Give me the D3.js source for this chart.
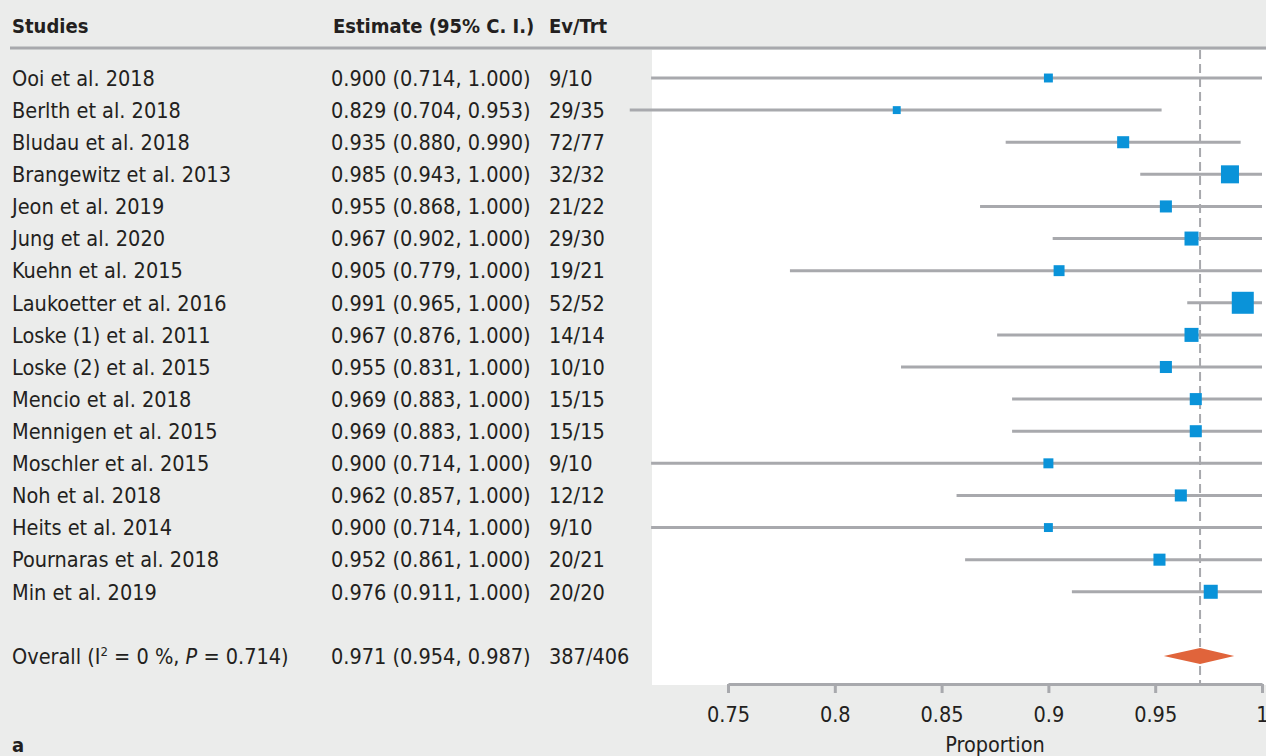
<!DOCTYPE html>
<html>
<head>
<meta charset="utf-8">
<script src="https://cdn.jsdelivr.net/npm/d3@7"></script>
<style>
  body { margin: 0; background: #ebeceb; }
  svg text { font-family: "Liberation Sans Narrow", "DejaVu Sans Condensed", "Roboto", sans-serif; fill: #231f20; }
</style>
</head>
<body>
<svg></svg>
<script>
let svgWidth = 1266;
let svgHeight = 756;

let studies = ["Ooi et al. 2018", "Berlth et al. 2018", "Bludau et al. 2018", "Brangewitz et al. 2013",
  "Jeon et al. 2019", "Jung et al. 2020", "Kuehn et al. 2015", "Laukoetter et al. 2016",
  "Loske (1) et al. 2011", "Loske (2) et al. 2015", "Mencio et al. 2018", "Mennigen et al. 2015",
  "Moschler et al. 2015", "Noh et al. 2018", "Heits et al. 2014", "Pournaras et al. 2018", "Min et al. 2019"];
let estimate = [0.900, 0.829, 0.935, 0.985, 0.955, 0.967, 0.905, 0.991, 0.967, 0.955, 0.969, 0.969, 0.900, 0.962, 0.900, 0.952, 0.976];
let lower = [0.714, 0.704, 0.880, 0.943, 0.868, 0.902, 0.779, 0.965, 0.876, 0.831, 0.883, 0.883, 0.714, 0.857, 0.714, 0.861, 0.911];
let upper = [1.000, 0.953, 0.990, 1.000, 1.000, 1.000, 1.000, 1.000, 1.000, 1.000, 1.000, 1.000, 1.000, 1.000, 1.000, 1.000, 1.000];
let events = [9, 29, 72, 32, 21, 29, 19, 52, 14, 10, 15, 15, 9, 12, 9, 20, 20];
let treated = [10, 35, 77, 32, 22, 30, 21, 52, 14, 10, 15, 15, 10, 12, 10, 21, 20];
// relative weights (%)
let weights = [2.8, 2.2, 5.1, 11.4, 5.1, 6.9, 4.2, 17.0, 6.9, 5.1, 5.1, 5.1, 3.5, 5.1, 2.8, 5.1, 6.9];

let overallEst = 0.971;
let overallLow = 0.954;
let overallHigh = 0.987;
let overallEv = 387;
let overallTrt = 406;
let xTicks = [0.75, 0.8, 0.85, 0.9, 0.95, 1];

let f3 = d3.format(".3f");
let fs = 21.5;

let svg = d3.select("svg").attr("width", svgWidth).attr("height", svgHeight);

let xScale = d3.scaleLinear().domain([0.75, 1]).range([728, 1262]);
let yScale = d3.scaleLinear().domain([0, 18]).range([78, 656]);
let sizeScale = d3.scaleSqrt().domain([0, 17]).range([0, 22]);

// white plot panel
svg.append("rect")
  .attr("x", 652).attr("y", 50)
  .attr("width", svgWidth - 652).attr("height", 635)
  .attr("fill", "#ffffff");

// header
let header = svg.append("g").attr("font-weight", "bold").attr("font-size", 20);
header.append("text").attr("x", 12).attr("y", 33).text("Studies");
header.append("text").attr("x", 333).attr("y", 33).text("Estimate (95% C. I.)");
header.append("text").attr("x", 549).attr("y", 33).text("Ev/Trt");
svg.append("line")
  .attr("x1", 10).attr("x2", svgWidth)
  .attr("y1", 48).attr("y2", 48)
  .attr("stroke", "#a8a9ad").attr("stroke-width", 3);

// reference line at overall estimate
svg.append("line")
  .attr("x1", xScale(overallEst)).attr("x2", xScale(overallEst))
  .attr("y1", 50).attr("y2", 684)
  .attr("stroke", "#a8a9ad").attr("stroke-width", 2)
  .attr("stroke-dasharray", "9,5");

// study rows
let rows = svg.append("g").selectAll("g").data(studies).join("g")
  .attr("transform", (d, i) => "translate(0," + yScale(i) + ")");

rows.append("text").attr("x", 12).attr("dy", "0.36em").attr("font-size", fs).text(d => d);
rows.append("text").attr("x", 331).attr("dy", "0.36em").attr("font-size", fs)
  .text((d, i) => f3(estimate[i]) + " (" + f3(lower[i]) + ", " + f3(upper[i]) + ")");
rows.append("text").attr("x", 549).attr("dy", "0.36em").attr("font-size", fs)
  .text((d, i) => events[i] + "/" + treated[i]);

rows.append("line")
  .attr("x1", (d, i) => xScale(lower[i]))
  .attr("x2", (d, i) => xScale(upper[i]))
  .attr("stroke", "#a8a9ad").attr("stroke-width", 3);

rows.append("rect")
  .attr("x", (d, i) => xScale(estimate[i]) - sizeScale(weights[i]) / 2)
  .attr("y", (d, i) => -sizeScale(weights[i]) / 2)
  .attr("width", (d, i) => sizeScale(weights[i]))
  .attr("height", (d, i) => sizeScale(weights[i]))
  .attr("fill", "#0a93d9");

// overall row
let yo = yScale(18);
let overall = svg.append("g").attr("font-size", fs);
let ot = overall.append("text").attr("x", 12).attr("y", yo).attr("dy", "0.36em");
ot.append("tspan").text("Overall (I");
ot.append("tspan").attr("font-size", 13).attr("dy", -8).text("2");
ot.append("tspan").attr("dy", 8).text(" = 0 %, ");
ot.append("tspan").attr("font-style", "italic").text("P");
ot.append("tspan").text(" = 0.714)");
overall.append("text").attr("x", 331).attr("y", yo).attr("dy", "0.36em")
  .text(f3(overallEst) + " (" + f3(overallLow) + ", " + f3(overallHigh) + ")");
overall.append("text").attr("x", 549).attr("y", yo).attr("dy", "0.36em")
  .text(overallEv + "/" + overallTrt);

svg.append("path")
  .attr("d", d3.line()([
    [xScale(overallLow), yo], [xScale(overallEst), yo - 8],
    [xScale(overallHigh), yo], [xScale(overallEst), yo + 8]
  ]) + "Z")
  .attr("fill", "#e0643b");

// x axis
let xAxis = d3.axisBottom(xScale).tickValues(xTicks)
  .tickFormat(d3.format("~g"))
  .tickSizeInner(9).tickSizeOuter(0).tickPadding(14);
let axisG = svg.append("g").attr("transform", "translate(0,684)").call(xAxis);
axisG.select(".domain").attr("stroke", "#a8a9ad").attr("stroke-width", 3);
axisG.selectAll(".tick line").attr("stroke", "#a8a9ad").attr("stroke-width", 3);
axisG.selectAll(".tick text").attr("font-size", fs).attr("fill", "#231f20")
  .style("font-family", "'Liberation Sans Narrow', 'DejaVu Sans Condensed', Roboto, sans-serif");

svg.append("text").attr("x", xScale(0.875)).attr("y", 752)
  .attr("text-anchor", "middle").attr("font-size", fs).text("Proportion");

svg.append("text").attr("x", 12).attr("y", 752)
  .attr("font-size", 20).attr("font-weight", "bold").text("a");
</script>
</body>
</html>
